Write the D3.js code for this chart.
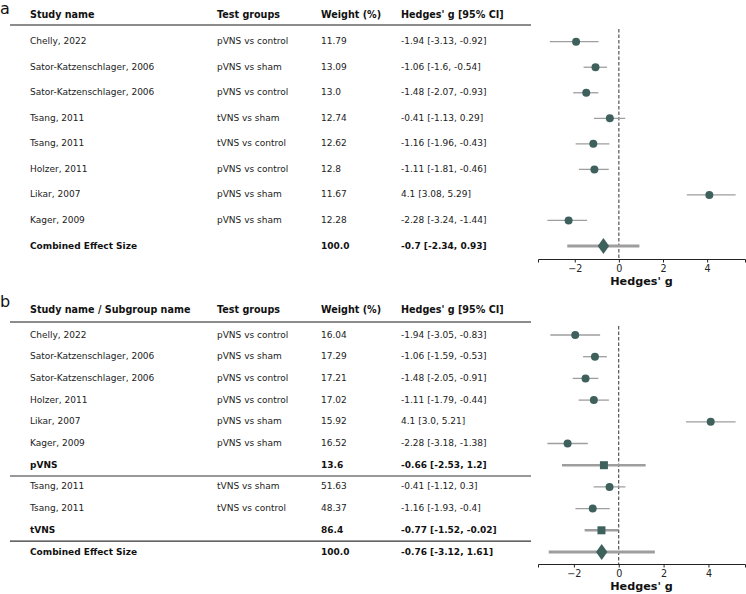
<!DOCTYPE html>
<html>
<head>
<meta charset="utf-8">
<script src="https://cdn.jsdelivr.net/npm/d3@7"></script>
<style>
  html, body { margin: 0; padding: 0; background: #fff; }
  svg { display: block; font-family: "DejaVu Sans", sans-serif; }
</style>
</head>
<body>
<svg id="chart" width="746" height="594"></svg>
<script>
// panel a: all studies
const namesA = ['Chelly, 2022', 'Sator-Katzenschlager, 2006', 'Sator-Katzenschlager, 2006',
  'Tsang, 2011', 'Tsang, 2011', 'Holzer, 2011', 'Likar, 2007', 'Kager, 2009', 'Combined Effect Size'];
const groupsA = ['pVNS vs control', 'pVNS vs sham', 'pVNS vs control', 'tVNS vs sham',
  'tVNS vs control', 'pVNS vs control', 'pVNS vs sham', 'pVNS vs sham', ''];
const weightsA = [11.79, 13.09, 13.0, 12.74, 12.62, 12.8, 11.67, 12.28, 100.0];
const effectA = [-1.94, -1.06, -1.48, -0.41, -1.16, -1.11, 4.1, -2.28, -0.7];
const lowerA = [-3.13, -1.6, -2.07, -1.13, -1.96, -1.81, 3.08, -3.24, -2.34];
const upperA = [-0.92, -0.54, -0.93, 0.29, -0.43, -0.46, 5.29, -1.44, 0.93];
const kindsA = ['study', 'study', 'study', 'study', 'study', 'study', 'study', 'study', 'overall'];

// panel b: subgroups pVNS / tVNS
const namesB = ['Chelly, 2022', 'Sator-Katzenschlager, 2006', 'Sator-Katzenschlager, 2006',
  'Holzer, 2011', 'Likar, 2007', 'Kager, 2009', 'pVNS', 'Tsang, 2011', 'Tsang, 2011', 'tVNS',
  'Combined Effect Size'];
const groupsB = ['pVNS vs control', 'pVNS vs sham', 'pVNS vs control', 'pVNS vs control',
  'pVNS vs sham', 'pVNS vs sham', '', 'tVNS vs sham', 'tVNS vs control', '', ''];
const weightsB = [16.04, 17.29, 17.21, 17.02, 15.92, 16.52, 13.6, 51.63, 48.37, 86.4, 100.0];
const effectB = [-1.94, -1.06, -1.48, -1.11, 4.1, -2.28, -0.66, -0.41, -1.16, -0.77, -0.76];
const lowerB = [-3.05, -1.59, -2.05, -1.79, 3.0, -3.18, -2.53, -1.12, -1.93, -1.52, -3.12];
const upperB = [-0.83, -0.53, -0.91, -0.44, 5.21, -1.38, 1.2, 0.3, -0.4, -0.02, 1.61];
const kindsB = ['study', 'study', 'study', 'study', 'study', 'study', 'subgroup',
  'study', 'study', 'subgroup', 'overall'];

const headersA = ['Study name', 'Test groups', 'Weight (%)', "Hedges' g [95% CI]"];
const headersB = ['Study name / Subgroup name', 'Test groups', 'Weight (%)', "Hedges' g [95% CI]"];
const ticks = [-2, 0, 2, 4];

const MARKER = '#3e615e';
const CI_GREY = '#9e9e9e';
const colX = [30, 217, 321, 401];

// python-style float text: 13.0, 3.0, 100.0
const fmtNum = v => Number.isInteger(v) ? v.toFixed(1) : String(v);

const svg = d3.select('#chart');

function toRows(names, groups, weights, effect, lower, upper, kinds) {
  return names.map((name, i) => ({
    name, group: groups[i], weight: weights[i],
    g: effect[i], lo: lower[i], hi: upper[i], kind: kinds[i],
  }));
}

function drawPanel(opts) {
  const { letter, top, headerY, lineY, firstY, lastY, axisY, headers, rows, separators } = opts;
  const root = svg.append('g');

  root.append('text')
    .attr('x', 0)
    .attr('y', top)
    .attr('font-size', 16)
    .attr('fill', '#111')
    .text(letter);

  // table header
  root.selectAll('.head')
    .data(headers)
    .enter()
    .append('text')
      .attr('x', (_, i) => colX[i])
      .attr('y', headerY)
      .attr('dominant-baseline', 'middle')
      .attr('font-size', 9.6)
      .attr('font-weight', 'bold')
      .attr('fill', '#111')
      .text(d => d);

  root.append('line')
    .attr('x1', 10).attr('x2', 531)
    .attr('y1', lineY).attr('y2', lineY)
    .attr('stroke', '#666')
    .attr('stroke-width', 1.6);

  const y = d3.scaleLinear()
    .domain([0, rows.length - 1])
    .range([firstY, lastY]);

  const rowG = root.selectAll('.row')
    .data(rows)
    .enter()
    .append('g')
      .attr('font-size', 9)
      .attr('fill', d => d.kind === 'study' ? '#222' : '#111')
      .attr('font-weight', d => d.kind === 'study' ? 'normal' : 'bold');

  const cells = d => [d.name, d.group, fmtNum(d.weight), `${d.g} [${fmtNum(d.lo)}, ${fmtNum(d.hi)}]`];
  rowG.each(function (d, i) {
    d3.select(this).selectAll('text')
      .data(cells(d))
      .enter()
      .append('text')
        .attr('x', (_, c) => colX[c])
        .attr('y', y(i))
        .attr('dominant-baseline', 'middle')
        .text(t => t);
  });

  (separators || []).forEach(after => {
    const sy = (y(after) + y(after + 1)) / 2;
    root.append('line')
      .attr('x1', 10).attr('x2', 531)
      .attr('y1', sy).attr('y2', sy)
      .attr('stroke', '#333')
      .attr('stroke-width', 1.1);
  });

  // forest plot
  const lo = d3.min(rows, d => d.lo);
  const hi = d3.max(rows, d => d.hi);
  const pad = (hi - lo) * 0.05;
  const x = d3.scaleLinear()
    .domain([lo - pad, hi + pad])
    .range([538, 745]);

  root.append('line')
    .attr('x1', x(0)).attr('x2', x(0))
    .attr('y1', lineY + 4).attr('y2', axisY)
    .attr('stroke', '#333')
    .attr('stroke-width', 1)
    .attr('stroke-dasharray', '3.5,2');

  const widths = { study: 1.3, subgroup: 2.4, overall: 3 };
  root.selectAll('.ci')
    .data(rows)
    .enter()
    .append('line')
      .attr('x1', d => x(d.lo))
      .attr('x2', d => x(d.hi))
      .attr('y1', (_, i) => y(i))
      .attr('y2', (_, i) => y(i))
      .attr('stroke', CI_GREY)
      .attr('stroke-width', d => widths[d.kind]);

  const shapes = { study: d3.symbolCircle, subgroup: d3.symbolSquare, overall: d3.symbolDiamond };
  const sizes = { study: 50, subgroup: 64, overall: 72 };
  root.selectAll('.mark')
    .data(rows)
    .enter()
    .append('path')
      .attr('transform', (d, i) => `translate(${x(d.g)},${y(i)})${d.kind === 'overall' ? ' scale(1.25,1)' : ''}`)
      .attr('d', d => d3.symbol(shapes[d.kind], sizes[d.kind])())
      .attr('fill', MARKER);

  const axis = root.append('g')
    .attr('transform', `translate(0,${axisY})`)
    .call(d3.axisBottom(x).tickValues(ticks).tickSize(3.5).tickPadding(2.5));
  axis.select('.domain').attr('stroke', '#222').attr('stroke-width', 1);
  axis.selectAll('.tick line').attr('stroke', '#222');
  axis.selectAll('.tick text')
    .attr('font-family', '"DejaVu Sans", sans-serif')
    .attr('font-size', 9.6)
    .attr('fill', '#222');

  root.append('text')
    .attr('x', (538 + 745) / 2)
    .attr('y', axisY + 23)
    .attr('dominant-baseline', 'middle')
    .attr('text-anchor', 'middle')
    .attr('font-size', 11.2)
    .attr('font-weight', 'bold')
    .attr('fill', '#111')
    .text("Hedges' g");
}

drawPanel({
  letter: 'a', top: 14, headerY: 15, lineY: 25, firstY: 41.7, lastY: 246, axisY: 259,
  headers: headersA,
  rows: toRows(namesA, groupsA, weightsA, effectA, lowerA, upperA, kindsA),
});

drawPanel({
  letter: 'b', top: 307, headerY: 310, lineY: 322, firstY: 335, lastY: 552, axisY: 564,
  headers: headersB,
  rows: toRows(namesB, groupsB, weightsB, effectB, lowerB, upperB, kindsB),
  separators: [6, 9],
});
</script>
</body>
</html>
